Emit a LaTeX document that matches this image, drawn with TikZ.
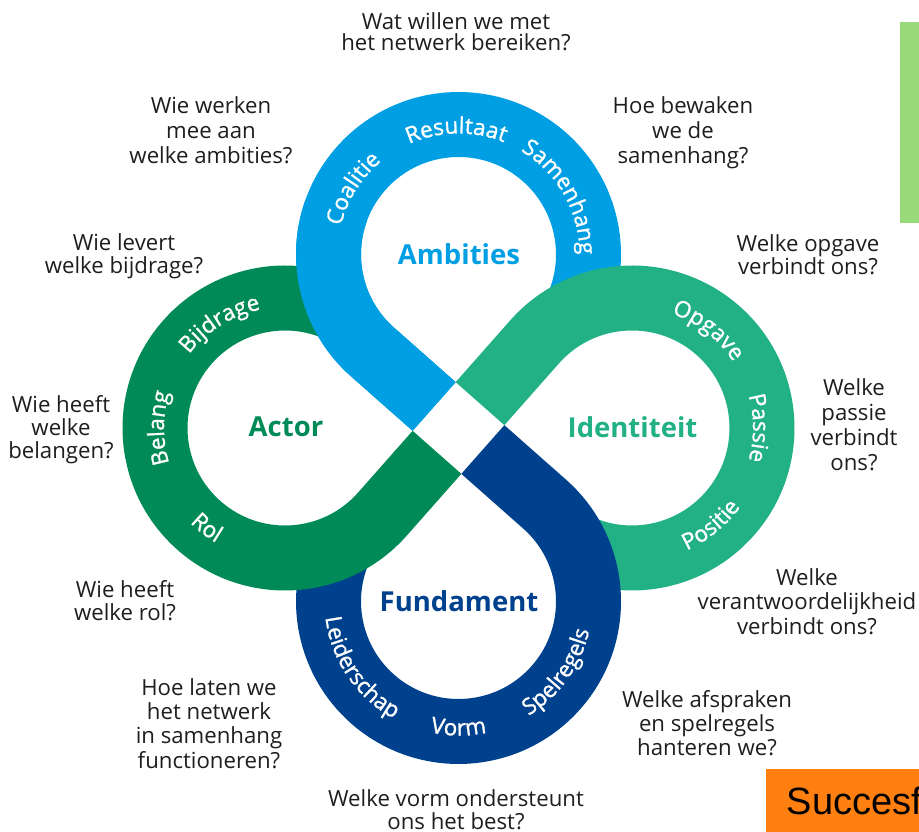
\documentclass[tikz,border=0pt]{standalone}
\usepackage{fontspec}
\setmainfont{Open Sans}
\newfontfamily\ringfont{Open Sans}[FakeBold=1.2]
\newfontfamily\arialfont{Liberation Sans}
\usetikzlibrary{decorations.text}
\definecolor{cBlue}{HTML}{009FE3}
\definecolor{cTeal}{HTML}{22B085}
\definecolor{cGreen}{HTML}{008A58}
\definecolor{cDark}{HTML}{00418D}
\definecolor{cText}{HTML}{1E1E1E}
\definecolor{cLime}{HTML}{98D97A}
\definecolor{cOrange}{HTML}{FF8011}
\newcommand\RingCW[3]{\path[shift={(#1)}, decorate, decoration={text along path, text align=center, text={|\ringfont\fontsize{22.5}{22.5}\selectfont\color{white}|#3}}] (#2+70:121) arc[start angle=#2+70, end angle=#2-70, radius=121];}
\newcommand\RingCCW[3]{\path[shift={(#1)}, decorate, decoration={text along path, text align=center, text={|\ringfont\fontsize{22.5}{22.5}\selectfont\color{white}|#3}}] (#2-70:134) arc[start angle=#2-70, end angle=#2+70, radius=134];}
\begin{document}
\begin{tikzpicture}[x=1pt,y=1pt,
  band/.style={line width=65pt, line cap=butt},
  question/.style={text=cText, align=center, inner sep=0pt},
  centerlabel/.style={font=\fontsize{27.5}{30}\selectfont\bfseries, inner sep=0pt},
]
\useasboundingbox (0,0) rectangle (919,832);
\clip (0,0) rectangle (919,832);
\coordinate (C) at (458.5,404);
\coordinate (B) at (458.5,577.5);
\coordinate (T) at (632,404);
\coordinate (D) at (458.5,230.5);
\coordinate (G) at (285,404);

% four loops
\foreach \rot/\col in {0/cBlue,-90/cTeal,-180/cDark,90/cGreen}{
  \begin{scope}[shift={(C)}, rotate=\rot]
    \draw[band, draw=\col] (138.53:32.5) -- (138.53:114.9)
      arc[start angle=228.53, end angle=-25, radius=130];
  \end{scope}
}
% blue start leg again, over the green end
\begin{scope}[shift={(C)}]
  \draw[band, draw=cBlue] (138.53:32.5) -- (138.53:114.9)
    arc[start angle=228.53, end angle=160, radius=130];
\end{scope}

% ring labels
\RingCW{B}{148}{Coalitie}
\RingCW{B}{91}{Resultaat}
\RingCW{B}{29.5}{Samenhang}
\RingCW{T}{52}{Opgave}
\RingCW{T}{0}{Passie}
\RingCCW{T}{-51}{Positie}
\RingCW{G}{122}{Bijdrage}
\RingCW{G}{180}{Belang}
\RingCCW{G}{232}{Rol}
\RingCCW{D}{214}{Leiderschap}
\RingCCW{D}{270}{Vorm}
\RingCCW{D}{-35.5}{Spelregels}

% centre labels
\node[centerlabel, text=cBlue] (amb) at (459,578) {Ambities};
\node[centerlabel, text=cGreen] (act) at (286,405) {Actor};
\node[centerlabel, text=cTeal] (ide) at (632.5,404.5) {Identiteit};
\node[centerlabel, text=cDark] (fun) at (459,231) {Fundament};

% questions
\node[question, font=\fontsize{22.2}{21.5}\selectfont] (q1) at (456,800.2) {Wat willen we met\\het netwerk bereiken?};
\node[question, font=\fontsize{22.2}{25}\selectfont] (q2) at (211,702.2) {Wie werken\\mee aan\\welke ambities?};
\node[question, font=\fontsize{22.2}{25}\selectfont] (q3) at (683,699.6) {Hoe bewaken\\we de\\samenhang?};
\node[question, font=\fontsize{22.2}{23}\selectfont] (q4) at (124,576.1) {Wie levert\\welke bijdrage?};
\node[question, font=\fontsize{22.2}{22}\selectfont] (q5) at (808,577.2) {Welke opgave\\verbindt ons?};
\node[question, font=\fontsize{22.2}{23}\selectfont] (q6) at (61,402.6) {Wie heeft\\welke\\belangen?};
\node[question, font=\fontsize{22.2}{25}\selectfont] (q7) at (854,407.7) {Welke\\passie\\verbindt\\ons?};
\node[question, font=\fontsize{22.2}{23}\selectfont] (q8) at (125,231.7) {Wie heeft\\welke rol?};
\node[question, font=\fontsize{22.2}{24.5}\selectfont] (q9) at (807,230.7) {Welke\\verantwoordelijkheid\\verbindt ons?};
\node[question, font=\fontsize{22.2}{24.3}\selectfont] (q10) at (209,108.7) {Hoe laten we\\het netwerk\\in samenhang\\functioneren?};
\node[question, font=\fontsize{22.2}{24}\selectfont] (q11) at (707,109.2) {Welke afspraken\\en spelregels\\hanteren we?};
\node[question, font=\fontsize{22.2}{23}\selectfont] (q12) at (456,22.5) {Welke vorm ondersteunt\\ons het best?};

% side boxes
\fill[cLime] (900,609) rectangle (919,810);
\fill[cOrange] (766,0) rectangle (919,63);
\node[anchor=base west, inner sep=0pt, font=\arialfont\fontsize{38}{40}\selectfont, text=black] (succ) at (786.5,17) {Succesf};
\end{tikzpicture}
\end{document}
